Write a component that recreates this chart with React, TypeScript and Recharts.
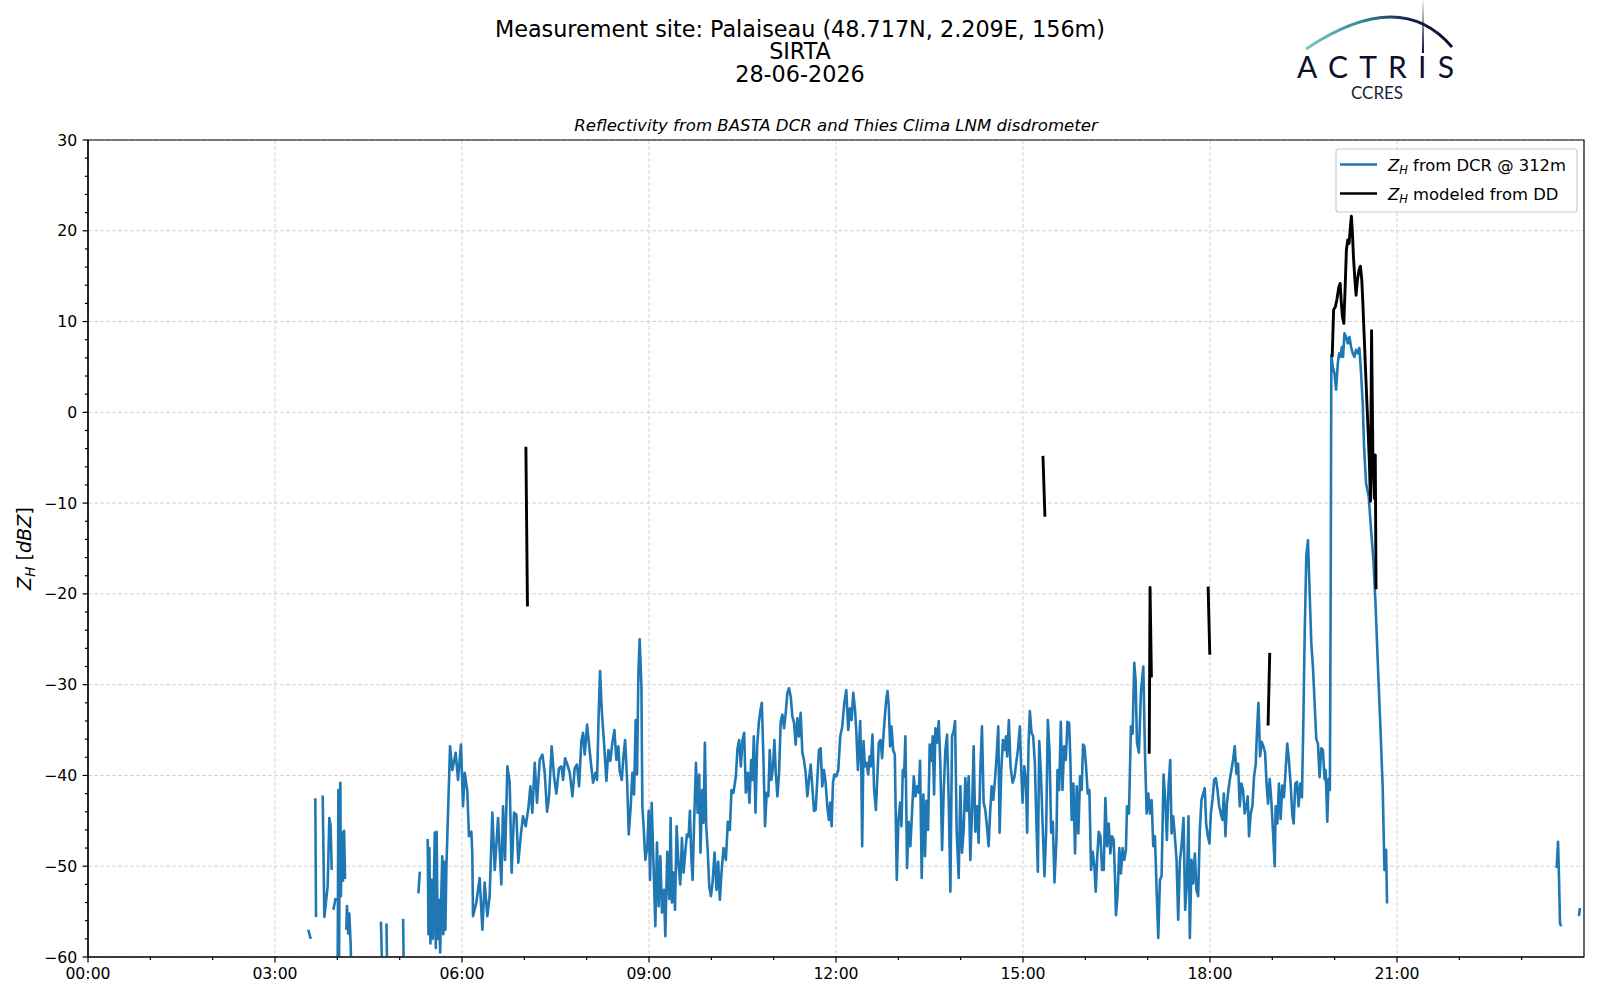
import React from "react";
import { LineChart, Line, XAxis, YAxis, CartesianGrid, ReferenceArea } from "recharts";

// time in minutes since 00:00 UTC, reflectivity in dBZ
type Pt = [number, number];

const TIME_TICKS = [0, 180, 360, 540, 720, 900, 1080, 1260];
const TIME_LABELS = ["00:00", "03:00", "06:00", "09:00", "12:00", "15:00", "18:00", "21:00"];
const DBZ_TICKS = [-60, -50, -40, -30, -20, -10, 0, 10, 20, 30];

const HOUR_MINOR = Array.from({ length: 24 }, (_, i) => i * 60);
const DBZ_MINOR = Array.from({ length: 46 }, (_, i) => -60 + i * 2);

const TITLE_LINES = ["Measurement site: Palaiseau (48.717N, 2.209E, 156m)", "SIRTA", "28-06-2026"];

// DCR @ 312m: short bursts before the continuous record
const dcrEarlyBursts: Pt[][] = [
  [[212, -57.0], [214.4, -58.0]],
  [[218.8, -42.5], [219.5, -55.6]],
  [[225.9, -42.2], [227.5, -55.6], [230.7, -52.2], [232.3, -44.7], [233.5, -45.5], [234.6, -50.4]],
  [[236.2, -54.8], [238.4, -53.5]],
  [[240.3, -62], [241, -41.6], [241.6, -62], [242.4, -43], [242.9, -40.8], [243.4, -53.3], [244.5, -46.3], [245.5, -51.6], [246.5, -46.1], [247.4, -51.4]],
  [[248.6, -57], [249.3, -54.4], [250.5, -57.4], [251.5, -55.2], [252.8, -58.5], [253.5, -62]],
  [[282, -56.1], [283.2, -62]],
  [[287.3, -56.3], [288, -62]],
  [[303.3, -55.8], [304, -62]],
  [[318, -53], [319.4, -50.6]],
];

const dcrMorning: Pt[] = [
  [327, -47], [327.7, -57.5], [328.6, -48], [329.6, -58.5], [331, -51.5], [332, -58], [333.8, -46.3], [334.8, -59],
  [335.6, -46.2], [336.6, -58], [337.8, -53.7], [339, -59.5], [340, -53.3], [341, -48.9], [342, -57.5], [343, -49.5],
  [344, -57], [345, -50], [348.5, -36.8], [350.7, -39.4], [352.3, -38.5], [353.9, -37.5], [356.2, -40.5], [359, -36.6],
  [361, -43.4], [362.6, -39.7], [365.1, -41.7], [366.7, -46.7], [369, -46.2], [369.9, -48.5], [370.6, -55.5], [373.8, -54.0],
  [377, -51.3], [379.6, -57], [381.8, -51.8], [384.4, -55.5], [386.6, -53.3], [389.2, -44.1], [391.5, -50.4], [394.7, -44.7],
  [397.9, -52.0], [399.5, -43.4], [401.4, -49.3], [403.7, -39.0], [405.9, -40.8], [407.8, -50.7], [410.1, -44.1], [412.3, -44.3],
  [414.2, -49.6], [416.5, -46.7], [418.7, -44.5], [421.3, -45.6], [423.9, -43.6], [425.8, -41.2], [427.7, -44.1], [430.0, -38.6],
  [432.2, -43.0], [434.8, -38.3], [437.4, -37.7], [439.6, -39.7], [441.9, -44.0], [443.8, -42.3], [446.3, -36.8], [448.6, -40.1],
  [450.8, -42.0], [453.4, -39.2], [455.7, -39.0], [457.3, -40.5], [459.2, -38.1], [461.4, -38.8], [463.7, -39.7], [466.3, -42.3],
  [468.5, -39.2], [470.7, -38.8], [472.7, -41.2], [474.9, -36.2], [476.5, -35.3], [478.1, -37.7], [480.4, -34.4], [482.9, -37.3],
  [484.9, -39.5], [486.2, -40.8], [488.4, -39.7], [490.0, -40.5], [491.6, -33.1], [492.9, -28.5], [494.5, -32.8], [496.7, -36.4],
  [499.0, -40.6], [500.9, -37.2], [502.8, -38.4], [504.5, -36.6], [506.7, -35.0], [508.6, -38.3], [510.5, -36.8], [511.8, -39.5],
  [513.8, -40.5], [515.4, -37.9], [517.0, -36.1], [518.9, -40.5], [520.5, -46.5], [522.4, -43.4], [524.0, -39.7], [525.6, -42.1],
  [527.2, -33.9], [528.5, -39.9], [529.8, -28.7], [531.0, -25.0], [532.7, -30.2], [533.6, -43.4], [534.6, -45.2], [536.5, -49.3],
  [538.4, -47.8], [539.7, -43.9],
];

const dcrMidday: Pt[] = [
  [541, -51.5], [542.6, -43.0], [544.5, -50.4], [546.1, -56.6], [547.7, -47.4], [549.3, -54.4], [550.9, -48.9], [552.5, -55.1],
  [554.4, -52.6], [555.7, -57.7], [557.6, -48.4], [559.5, -53.6], [560.8, -44.7], [562.1, -54.0], [563.7, -50.7], [565, -54.8],
  [566.6, -45.6], [568.5, -50], [570.1, -52.0], [571.7, -46.9], [573.3, -50.7], [574.9, -48.5], [576.5, -46.5], [578.1, -46.7],
  [579.4, -43.9], [580.7, -48.9], [582, -51.5], [583.5, -44.9], [585.2, -38.6], [586.8, -44.1], [588.3, -39.9], [589.6, -48.5],
  [591.2, -41.6], [592.5, -45.2], [593.8, -36.4], [595.1, -45.6], [596.4, -48.0], [598, -52.2], [599.6, -53.3], [601.2, -51.8],
  [603.1, -48.5], [605, -52.6], [606.6, -49.5], [608.2, -53.7], [609.8, -50.7], [611.7, -48.0], [614, -49.3], [615.9, -45.1],
  [617.8, -46.0], [619.4, -41.6], [621.3, -41.9], [623.6, -40.1], [625.2, -37.0], [626.8, -36.1], [628.4, -39.0], [630, -36.1],
  [631.6, -35.3], [633.2, -41.9], [635.1, -39.7], [636.7, -43.0], [638.3, -38.3], [639.6, -40.5], [640.9, -35.7], [642.5, -44.1],
  [644.1, -36.8], [645.7, -34.2], [647.3, -32.8], [648.6, -32.0], [650.1, -37.9], [651.7, -45.6], [653.3, -41.9], [654.9, -42.3],
  [656.2, -37.2], [657.8, -40.5], [659.4, -39.0], [660.7, -36.1], [662, -39.7], [663.6, -42.3], [665.2, -39.7], [666.8, -34.0],
  [668.4, -33.3], [670, -34.8], [671.6, -33.1], [673.2, -30.9], [674.8, -30.4], [676.4, -31.3], [678, -33.5], [679.6, -34.2],
  [681.2, -36.6], [682.8, -33.7], [684.4, -35.7], [686, -33.1], [687.6, -37.5], [689.2, -38.3], [690.8, -39.7], [692.4, -42.3],
  [694, -40.5], [695.6, -38.8], [697.2, -41.2], [698.8, -43.9], [700.4, -43.8], [702, -40.5], [703.6, -37.2], [705.2, -37.0],
  [706.8, -41.2], [708.4, -39.4], [710, -40.8], [711.6, -43.4], [713.2, -44.9], [714.5, -43.0], [715.8, -45.6], [717.1, -40.8],
  [718.4, -39.9], [720.3, -40.1], [722.2, -39.4], [724.1, -35.7], [726, -34.6], [728, -32.0], [729.9, -30.6], [731.8, -35.0],
  [733.4, -32.6], [735, -33.9], [736.6, -30.9], [738.2, -32.6], [739.5, -35.0], [741.1, -39.4], [743.3, -34.0], [744.3, -39.0],
  [745.2, -47.8], [746.5, -36.2], [747.8, -39.0], [749.4, -38.6], [751, -39.9], [752.3, -37.9], [753.5, -39.0], [755.1, -35.5],
  [756.7, -41.6], [758.4, -43.8], [760, -39.7], [761.2, -36.4], [762.8, -36.1], [764.4, -38.1], [765.4, -36.1], [767, -33.5],
  [768.3, -31.7], [769.6, -30.7], [770.8, -32.4], [772.1, -36.8], [773.4, -34.6], [775, -37.2], [776.6, -37.7], [778.5, -51.5],
  [780.1, -44.9], [781.7, -43.0], [783, -45.6], [784.3, -39.4], [785.5, -40.1], [786.8, -35.7], [788.4, -50.2], [790, -45.1],
  [791.6, -47.8], [793.3, -43.8], [794.9, -40.1], [796.5, -42.3], [798.1, -41.2], [799.7, -41.9], [800.9, -38.4], [802.5, -51.3],
  [804.1, -42.1], [805.7, -48.9], [807, -42.8], [808.6, -46.0], [810.2, -36.6], [811.8, -38.4], [813.1, -35.7], [814.4, -42.1],
  [815.7, -34.8], [817.3, -36.4], [818.9, -34.0], [820.5, -39.0], [822.1, -48.2], [823.7, -41.6], [825.3, -37.2], [826.9, -35.5],
  [828.5, -42.7], [830.1, -52.8], [831.7, -35.7], [833.3, -35.1], [834.6, -34.0], [836.2, -46.3], [838.1, -51.3], [839.7, -41.2],
  [841.3, -48.5], [842.9, -46.0], [844.5, -40.3], [846.1, -43.9], [847.7, -40.1], [849.3, -49.3], [850.9, -44.1], [852.5, -36.8],
  [854.1, -46.2], [855.7, -43.4], [857.3, -47.4], [858.9, -39.5], [860.5, -34.6], [862.1, -43.0], [863.7, -43.8], [865.3, -45.6],
  [866.9, -47.8], [868.2, -44.5], [869.8, -41.2], [871.4, -42.7], [873, -40.5], [874.6, -37.9], [876.2, -34.6], [877.5, -46.3],
  [879.1, -39.4], [880.7, -36.1], [882.3, -37.2], [883.6, -35.7], [884.8, -37.9], [886.4, -33.9], [888, -39.0], [890, -40.8],
  [891.9, -40.1], [893.5, -38.6], [895.1, -37.2], [897, -34.6], [898.3, -39.4], [899.6, -43.0], [901.2, -39.0], [902.8, -40.5],
  [904, -46.3], [905.3, -36.8], [906.6, -32.9], [908.2, -35.3], [909.8, -35.7], [911.4, -38.6], [913, -45.6], [914.3, -50.6],
  [915.6, -36.2], [917.2, -39.7], [918.8, -45.1], [920.7, -51.1], [922.3, -46.0], [923.9, -33.9], [925.5, -37.2], [927.1, -46.3],
  [928.7, -45.1], [930.3, -51.8], [932.2, -47.1],
];

const dcrAfternoon: Pt[] = [
  [933.2, -39.4], [934.8, -41.6], [936.4, -34.1], [938, -41.6], [939.6, -36.8], [941.2, -38.3], [942.8, -34.1], [944.4, -34.2],
  [945.6, -38.3], [946.9, -44.9], [948.5, -40.9], [950.1, -48.6], [951.7, -41.2], [953.3, -46.4], [954.9, -40.1], [956.5, -41.6],
  [957.8, -36.6], [959.1, -36.8], [960.7, -39.0], [962.3, -42.0], [963.9, -41.6], [965.5, -50.4], [967.1, -48.4], [968.7, -50.0],
  [970, -52.8], [971.3, -49.3], [972.9, -46.2], [974.5, -46.7], [976.1, -50.4], [977.7, -50.4], [979.3, -42.5], [980.9, -47.8],
  [982.5, -45.3], [984.1, -48.6], [985.7, -46.7], [987.3, -47.1], [988.5, -51.1], [989.5, -55.4], [991.1, -53.0], [992.7, -48.0],
  [994.3, -50.8], [995.9, -48.0], [997.5, -49.3], [999.1, -48.2], [1000.1, -43.4], [1002, -44.2], [1003.9, -34.6], [1005.5, -35.4],
  [1007.1, -27.6], [1008.4, -29.5], [1009.7, -36.4], [1011.6, -37.5], [1013.5, -30.9], [1015.8, -28.0], [1017.4, -37.5], [1019, -44.2],
  [1020.6, -42.0], [1022.2, -44.2], [1023.8, -42.7], [1025.4, -47.8], [1027, -46.7], [1028.6, -52.6], [1030.2, -57.9], [1031.8, -51.5],
  [1033.4, -51.1], [1035.3, -39.9], [1036.9, -42.7], [1038.5, -47.1], [1040.1, -41.2], [1041.7, -38.3], [1043, -46.4], [1044.6, -44.5],
  [1046.2, -46.7], [1047.8, -49.3], [1049.4, -55.9], [1051, -49.5], [1052.6, -47.8], [1054.5, -44.7], [1056.1, -54.8], [1057.7, -51.9],
  [1059.3, -44.5], [1060.6, -57.9], [1062.2, -49.3], [1063.8, -51.9], [1065.4, -48.6], [1067, -52.6], [1068.6, -53.3], [1070.2, -46.0],
  [1071.8, -42.7], [1073.4, -42.0], [1075, -41.4], [1076.3, -45.3], [1077.9, -46.7], [1079.5, -47.5], [1080.8, -44.2], [1082.4, -42.7],
  [1084, -40.5], [1085.6, -40.3], [1087.2, -41.6], [1088.8, -43.4], [1090.4, -44.2], [1092, -44.9], [1093.3, -42.0], [1094.9, -46.7],
  [1096.2, -43.2], [1097.7, -41.6], [1099.3, -40.3], [1100.9, -39.2], [1102.2, -38.3], [1103.8, -36.8], [1105.4, -39.8], [1107, -38.7],
  [1108.6, -43.4], [1110.2, -40.9], [1111.8, -41.6], [1113.4, -44.2], [1115, -43.4], [1116.3, -42.3], [1117.6, -46.7], [1119.2, -44.2],
  [1120.8, -43.4], [1122.4, -40.1], [1124, -38.8], [1125.3, -35.0], [1126.6, -32.0], [1128.2, -37.9], [1129.8, -36.3], [1131.4, -36.8],
  [1133, -37.5], [1134.6, -41.2], [1135.9, -43.1],
];

const dcrEvening: Pt[] = [
  [1137.5, -40.4], [1139.1, -42.9], [1140.7, -46.3], [1142.3, -50.0], [1143.2, -43.4], [1144.8, -45.3], [1146.4, -40.9], [1148, -44.8],
  [1149.6, -41.1], [1151.2, -42.4], [1152.8, -39.4], [1154.4, -36.5], [1156, -38.4], [1157.6, -40.9], [1159.2, -44.3], [1160.5, -45.3],
  [1162.1, -40.9], [1163.7, -40.7], [1165.3, -43.4], [1166.9, -40.9], [1168.5, -42.4], [1169.8, -34.5], [1171.1, -24.7], [1172.7, -15.8],
  [1174.3, -14.1], [1175.9, -19.8], [1177.5, -25.4], [1179.1, -28.1], [1180.7, -32.0], [1182.3, -36.0], [1183.9, -36.5], [1185.5, -40.2],
  [1187.1, -37.0], [1188.7, -37.2], [1190.3, -40.4], [1191.3, -39.4], [1192.9, -45.1], [1194.1, -40.4], [1195.4, -41.6], [1196.2, -18.8],
  [1196.8, 6.3], [1198.2, 5.0], [1199.8, 4.3], [1201.4, 2.5], [1203, 5.4], [1204.3, 6.5], [1205.6, 6.1], [1206.9, 7.2],
  [1208.1, 6.1], [1209.4, 8.7], [1211, 8.3], [1212.6, 7.6], [1214.2, 8.3], [1215.8, 7.2], [1217.4, 6.5], [1219, 6.1],
  [1220.6, 6.9], [1222.2, 6.5], [1223.8, 7.1], [1225.4, 4.3], [1227, 1.0], [1228.3, -3.8], [1230.2, -7.8], [1232.8, -9.3],
  [1235, -12.9], [1237.3, -16.3], [1239.2, -20.7], [1241.4, -27.3], [1244, -34.6], [1246.2, -41.2], [1247.9, -50.4], [1249.5, -48.2],
  [1250.4, -54.1],
];

const dcrLateBursts: Pt[][] = [
  [[1413.7, -50.2], [1415, -47.3], [1415.9, -51.1], [1416.9, -56.3], [1418.2, -56.6]],
  [[1435.1, -55.5], [1436.1, -54.6]],
];

// Z_H modeled from the disdrometer drop size distribution
const ddShowers: Pt[][] = [
  [[421.5, -3.8], [423, -21.4]],
  [[919.2, -4.8], [921.1, -11.5]],
  [[1021.5, -37.6], [1022.3, -19.3], [1023.6, -29.2]],
  [[1078.2, -19.2], [1079.8, -26.7]],
  [[1135.9, -34.5], [1137.5, -26.5]],
];

const ddStorm: Pt[] = [
  [1197.6, 6.1], [1199, 11.3], [1200.6, 11.6], [1202.1, 12.4], [1204, 13.8], [1205.3, 14.2], [1206.2, 12.4], [1207.5, 10.5],
  [1208.8, 9.8], [1210.1, 13.8], [1211.3, 17.9], [1212.6, 19.0], [1213.9, 18.6], [1215.2, 20.5], [1216.1, 21.6], [1217.1, 19.7],
  [1218.1, 17.1], [1219.3, 14.9], [1220.6, 12.9], [1221.9, 14.6], [1223.5, 15.7], [1224.8, 16.1], [1226.1, 14.6], [1227, 12.4],
  [1228.3, 8.7], [1229.6, 5.0], [1230.9, 1.4], [1232.2, -2.0], [1233.4, -5.5], [1234.5, -9.8], [1235.5, 9.0], [1236.8, -5.0],
  [1238.2, -9.5], [1239.1, -4.7], [1239.8, -19.5],
];

const SERIES = [
  { name: "from DCR @ 312m", color: "#1f77b4" },
  { name: "modeled from DD", color: "#000000" },
];

// a null row after each segment breaks the line like a NaN does
function withGaps(segments: Pt[][]) {
  const rows: { t: number; v: number | null }[] = [];
  segments.forEach((seg) => {
    seg.forEach(([t, v]) => rows.push({ t, v }));
    rows.push({ t: seg[seg.length - 1][0] + 0.05, v: null });
  });
  return rows;
}

const dcrData = withGaps([
  ...dcrEarlyBursts,
  [...dcrMorning, ...dcrMidday, ...dcrAfternoon, ...dcrEvening],
  ...dcrLateBursts,
]);
const ddData = withGaps([...ddShowers, ddStorm]);

const FONT = "DejaVu Sans";
const TICK_FONT = 15.7;

function TimeTick(props: any) {
  const { x, y, payload } = props;
  const idx = TIME_TICKS.indexOf(payload.value);
  const major = idx >= 0;
  return (
    <g>
      <line x1={x} x2={x} y1={y} y2={y + (major ? 5.4 : 3.1)} stroke="#000" strokeWidth={1.2} />
      {major && (
        <text x={x} y={y + 21.8} textAnchor="middle" fontSize={TICK_FONT} fontFamily={FONT} fill="#000">
          {TIME_LABELS[idx]}
        </text>
      )}
    </g>
  );
}

function DbzTick(props: any) {
  const { x, y, payload } = props;
  const major = DBZ_TICKS.includes(payload.value);
  const label = payload.value < 0 ? `\u2212${Math.abs(payload.value)}` : `${payload.value}`;
  return (
    <g>
      <line x1={x - (major ? 5.4 : 3.1)} x2={x} y1={y} y2={y} stroke="#000" strokeWidth={1.2} />
      {major && (
        <text x={x - 10.8} y={y + 5.6} textAnchor="end" fontSize={TICK_FONT} fontFamily={FONT} fill="#000">
          {label}
        </text>
      )}
    </g>
  );
}

function Overlay() {
  return (
    <svg width={1600} height={1000} style={{ position: "absolute", left: 0, top: 0, pointerEvents: "none" }}>
      <defs>
        <linearGradient id="arcGrad" x1={1306} y1={0} x2={1452} y2={0} gradientUnits="userSpaceOnUse">
          <stop offset="0" stopColor="#7cc9c4" />
          <stop offset="0.4" stopColor="#2b8592" />
          <stop offset="0.7" stopColor="#16204a" />
          <stop offset="1" stopColor="#0d0f30" />
        </linearGradient>
        <linearGradient id="mastGrad" x1={0} y1={0} x2={0} y2={53} gradientUnits="userSpaceOnUse">
          <stop offset="0" stopColor="#0d0f30" stopOpacity={0.05} />
          <stop offset="1" stopColor="#0d0f30" />
        </linearGradient>
      </defs>

      {/* three-line suptitle kept as one text block */}
      <text x={800} y={36.5} fontFamily={FONT} fill="#000" textAnchor="middle" fontSize={22.3}>
        {TITLE_LINES.map((line, i) => (
          <tspan key={line} x={800} dy={i === 0 ? 0 : 22.9}>
            {line}
          </tspan>
        ))}
      </text>
      <text x={836} y={130.5} textAnchor="middle" fontFamily={FONT} fontStyle="italic" fontSize={16.6} fill="#000">
        Reflectivity from BASTA DCR and Thies Clima LNM disdrometer
      </text>

      <text transform="translate(30.5,548.5) rotate(-90)" textAnchor="middle" fontFamily={FONT} fontSize={19.2} fill="#000">
        <tspan fontStyle="italic">Z</tspan>
        <tspan fontStyle="italic" fontSize={13.4} dy={4}>H</tspan>
        <tspan dy={-4}> [</tspan>
        <tspan fontStyle="italic">dBZ</tspan>
        <tspan>]</tspan>
      </text>

      <rect x={1336} y={149} width={241} height={63} rx={3} fill="#fff" fillOpacity={0.8} stroke="#cccccc" strokeWidth={1.2} />
      {SERIES.map((s, i) => {
        const cy = 164.5 + i * 29;
        return (
          <g key={s.name}>
            <line x1={1340} x2={1377} y1={cy} y2={cy} stroke={s.color} strokeWidth={2.5} />
            <text x={1388} y={cy + 6} fontFamily={FONT} fontSize={16.4} fill="#000">
              <tspan fontStyle="italic">Z</tspan>
              <tspan fontStyle="italic" fontSize={11.5} dy={3.5}>H</tspan>
              <tspan dy={-3.5}> {s.name}</tspan>
            </text>
          </g>
        );
      })}

      <path d="M1306 49 Q1400 -14 1452 47" stroke="url(#arcGrad)" strokeWidth={3} fill="none" />
      <line x1={1423} y1={1} x2={1423} y2={53} stroke="url(#mastGrad)" strokeWidth={2} />
      <text x={1297} y={78} fontFamily="Lato" fontSize={30} fill="#0d0f30" textLength={157} lengthAdjust="spacing">
        ACTRIS
      </text>
      <text x={1377} y={99} textAnchor="middle" fontFamily="Lato" fontSize={17} fill="#1b1d40">
        CCRES
      </text>
    </svg>
  );
}

export default function App() {
  return (
    <div style={{ position: "absolute", left: 0, top: 0, width: 1600, height: 1000, background: "#fff" }}>
      <LineChart width={1600} height={1000} margin={{ top: 140, right: 16, bottom: 13, left: 0 }}>
        <CartesianGrid
          stroke="#d3d3d3"
          strokeWidth={1}
          strokeDasharray="4 2"
          verticalValues={TIME_TICKS}
          horizontalValues={DBZ_TICKS}
        />
        <XAxis
          type="number"
          dataKey="t"
          domain={[0, 1440]}
          ticks={HOUR_MINOR}
          interval={0}
          height={30}
          tickSize={0}
          tickMargin={0}
          tickLine={false}
          tick={(p: any) => <TimeTick {...p} />}
          axisLine={{ stroke: "#000", strokeWidth: 1.2 }}
          allowDataOverflow
        />
        <YAxis
          type="number"
          domain={[-60, 30]}
          ticks={DBZ_MINOR}
          interval={0}
          width={88}
          tickSize={0}
          tickMargin={0}
          tickLine={false}
          tick={(p: any) => <DbzTick {...p} />}
          axisLine={{ stroke: "#000", strokeWidth: 1.2 }}
          allowDataOverflow
        />
        <Line
          data={dcrData}
          dataKey="v"
          name={SERIES[0].name}
          stroke={SERIES[0].color}
          strokeWidth={2.6}
          strokeLinejoin="round"
          dot={false}
          activeDot={false}
          connectNulls={false}
          isAnimationActive={false}
        />
        <Line
          data={ddData}
          dataKey="v"
          name={SERIES[1].name}
          stroke={SERIES[1].color}
          strokeWidth={2.9}
          strokeLinejoin="round"
          dot={false}
          activeDot={false}
          connectNulls={false}
          isAnimationActive={false}
        />
        <ReferenceArea x1={0} x2={1440} y1={-60} y2={30} fill="none" stroke="#000" strokeWidth={1.2} />
      </LineChart>
      <Overlay />
    </div>
  );
}
